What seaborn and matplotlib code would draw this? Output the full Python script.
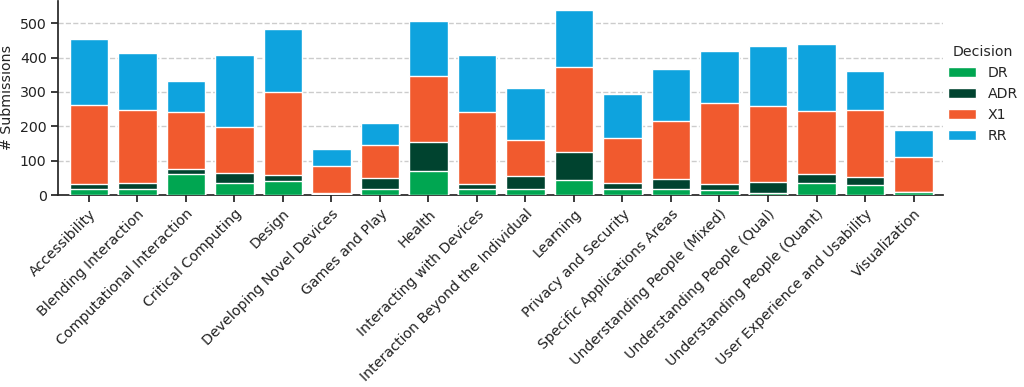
import numpy as np
import pandas as pd
import matplotlib
matplotlib.use("Agg")
import matplotlib.pyplot as plt
import seaborn as sns
from matplotlib.patches import Patch

categories = ["Accessibility", "Blending Interaction", "Computational Interaction",
              "Critical Computing", "Design", "Developing Novel Devices", "Games and Play",
              "Health", "Interacting with Devices", "Interaction Beyond the Individual",
              "Learning", "Privacy and Security", "Specific Applications Areas",
              "Understanding People (Mixed)", "Understanding People (Qual)",
              "Understanding People (Quant)", "User Experience and Usability", "Visualization"]
DR  = [17, 18, 60, 35, 40, 3, 17, 70, 18, 17, 43, 17, 17, 14, 5, 34, 30, 8]
ADR = [14, 17, 17, 30, 18, 4, 32, 83, 13, 37, 82, 17, 31, 17, 34, 28, 23, 1]
X1  = [232, 212, 164, 133, 243, 78, 96, 194, 211, 105, 246, 132, 167, 236, 221, 183, 194, 102]
RR  = [192, 165, 92, 209, 183, 48, 64, 158, 165, 152, 166, 129, 152, 151, 174, 195, 114, 77]
decisions = ["DR", "ADR", "X1", "RR"]
colors = {"DR": "#00A651", "ADR": "#00432F", "X1": "#F15A2E", "RR": "#0EA3DE"}

sns.set_theme(style="ticks")
plt.rcParams['font.family'] = ['DejaVu Sans']
FS = 10.2

df = pd.DataFrame({"Category": categories, "DR": DR, "ADR": ADR, "X1": X1, "RR": RR})
cum = df[decisions].cumsum(axis=1)

fig = plt.figure(figsize=(10.24, 3.87), dpi=100)
ax = fig.add_axes([0.057, 0.496, 0.864, 0.502])

for d in reversed(decisions):
    sns.barplot(x=df["Category"], y=cum[d], color=colors[d], ax=ax,
                width=0.8, edgecolor="white", linewidth=1.0, saturation=1, zorder=3)

ax.set_xlim(-0.63, len(categories) - 0.39)
ax.set_ylim(0, 565)
ax.set_yticks([0, 100, 200, 300, 400, 500])
ax.yaxis.grid(True, linestyle="--", color="#cccccc", linewidth=1, zorder=0)
ax.set_axisbelow(True)
sns.despine(ax=ax)
ax.set_xlabel("")
ax.set_ylabel("# Submissions", fontsize=FS, color="#222222")
ax.tick_params(axis="both", labelsize=FS, colors="#222222", length=5)
plt.setp(ax.get_xticklabels(), rotation=45, ha="right", rotation_mode="anchor")

handles = [Patch(facecolor=colors[d], edgecolor="white", label=d) for d in decisions]
leg = ax.legend(handles=handles, title="Decision", loc="upper left",
                bbox_to_anchor=(0.991, 0.84), frameon=False, fontsize=FS,
                title_fontsize=FS)

fig.savefig("out.png", dpi=100)
